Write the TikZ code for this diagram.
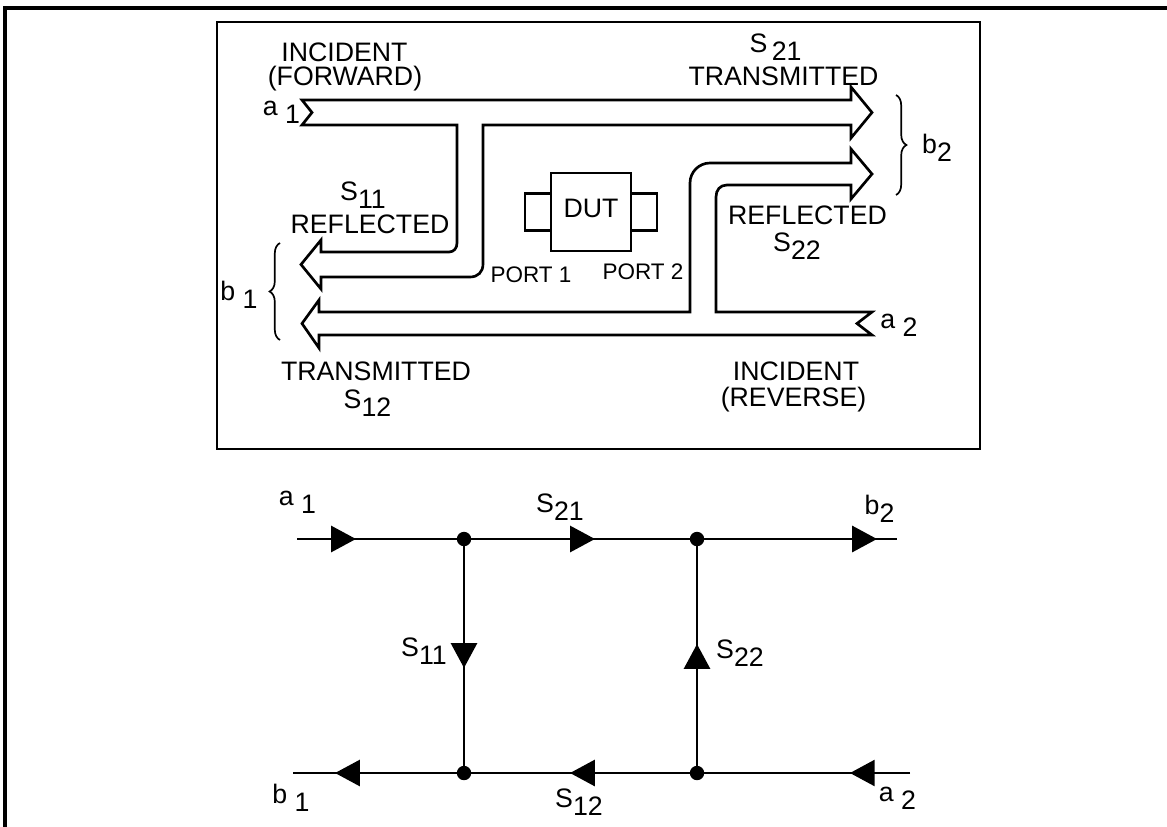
\documentclass[tikz,border=0pt]{standalone}
\usepackage{fontspec}
\setmainfont{Liberation Sans}
\usetikzlibrary{positioning,arrows.meta,decorations.markings,decorations.pathreplacing}

\newcommand{\sparam}[2]{#1\raisebox{-5.5pt}{#2}}

\tikzset{
    tag/.style={
        font=\fontsize{19}{22}\selectfont,
        inner sep=0pt
    },
    smalltag/.style={
        font=\fontsize{16}{19}\selectfont,
        inner sep=0pt
    },
    outerline/.style={line width=2.2pt},
    panel/.style={draw, line width=2.1pt},
    fatarrow/.style={draw, line width=1.9pt, line join=miter},
    dutbox/.style={
        draw,
        line width=2pt,
        minimum width=20mm,
        minimum height=19.5mm,
        inner sep=0pt,
        outer sep=0pt,
        font=\fontsize{19}{22}\selectfont
    },
    portbox/.style={
        draw,
        line width=2pt,
        minimum width=6.5mm,
        minimum height=9.25mm,
        inner sep=0pt,
        outer sep=0pt
    },
    curly/.style={
        decorate,
        decoration={brace, amplitude=2.6mm},
        line width=1.2pt
    },
    sigline/.style={line width=1.9pt},
    junction/.style={circle, fill, inner sep=0pt, minimum size=3.6mm},
    midarrow/.style={
        postaction={decorate},
        decoration={markings,
            mark=at position #1 with {\arrow{Triangle[length=6.2mm, width=6.5mm]}}}
    }
}

\begin{document}
\begin{tikzpicture}[x=0.25mm, y=-0.25mm]
\useasboundingbox (0,0) rectangle (1167,827);

% FRAME
\draw[outerline] (5,827) |- (1167,8);
\draw[panel] (217,22) rectangle (980,449);

% FORWARD WAVE (a1)
\draw[fatarrow] (302,100) -- (851,100) -- (851,87) -- (872,112.5) -- (851,138)
    -- (851,125) -- (483,125) -- (483,264) .. controls (483,272) and (478,277) .. (470,277)
    -- (321,277) -- (321,289) -- (301,264.5) -- (321,240) -- (321,252) -- (449,252)
    .. controls (454,252) and (457,248) .. (457,243) -- (457,125) -- (302,125)
    -- (312,112.5) -- cycle;

% REVERSE WAVE (a2)
\draw[fatarrow] (872,312) -- (716,312) -- (716,197) .. controls (716,190) and (720,185) .. (727,185)
    -- (851,185) -- (851,199) -- (872,174) -- (851,149) -- (851,163) -- (710,163)
    .. controls (699,163) and (690,172) .. (690,183) -- (690,312) -- (319,312)
    -- (319,300) -- (302,323.5) -- (319,348) -- (319,335) -- (872,335)
    -- (857,323.5) -- cycle;

% DUT
\node[dutbox] (dut) at (591,212) {\raisebox{1.8mm}{DUT}};
\node[portbox, left=0pt of dut] (portl) {};
\node[portbox, right=0pt of dut] (portr) {};

% BRACES
\draw[curly] (280,340) -- (280,243);
\draw[curly] (896,95) -- (896,195);

% TOP LABELS
\node[tag] (incfwd) at (344.5,52) {INCIDENT};
\node[tag] (fwd) at (345,79) {(FORWARD)};
\node[tag] (stop21) at (775.5,47.5) {\sparam{S\,}{21}};
\node[tag] (transfwd) at (783.5,76.5) {TRANSMITTED};
\node[tag] (atop1) at (281.5,112.5) {\sparam{a~}{1}};
\node[tag] (stop11) at (363,195) {\sparam{S}{11}};
\node[tag] (refl1) at (370,224) {REFLECTED};
\node[smalltag] (port1) at (531,275) {PORT 1};
\node[smalltag] (port2) at (643,272) {PORT 2};
\node[tag] (btop2) at (937,148) {\sparam{b}{2}};
\node[tag] (refl2) at (807.5,215) {REFLECTED};
\node[tag] (stop22) at (797,246.5) {\sparam{S}{22}};
\node[tag] (btop1) at (239,295) {\sparam{b~}{1}};
\node[tag] (transrev) at (376,371) {TRANSMITTED};
\node[tag] (stop12) at (367.5,403.5) {\sparam{S}{12}};
\node[tag] (increv) at (796,371) {INCIDENT};
\node[tag] (rev) at (793.5,399.5) {(REVERSE)};
\node[tag] (atop2) at (899,325) {\sparam{a~}{2}};

% FLOW GRAPH
\coordinate (a1in) at (297,539);
\coordinate (b2out) at (897,539);
\coordinate (b1out) at (293,773);
\coordinate (a2in) at (910,773);
\node[junction] (n1) at (464,539) {};
\node[junction] (n2) at (697,539) {};
\node[junction] (n3) at (464,773) {};
\node[junction] (n4) at (697,773) {};

\draw[sigline, midarrow=0.353] (a1in) -- (n1.center);
\draw[sigline, midarrow=0.562] (n1.center) -- (n2.center);
\draw[sigline, midarrow=0.9] (n2.center) -- (b2out);
\draw[sigline, midarrow=0.551] (n1.center) -- (n3.center);
\draw[sigline, midarrow=0.551] (n4.center) -- (n2.center);
\draw[sigline, midarrow=0.754] (n3.center) -- (b1out);
\draw[sigline, midarrow=0.545] (n4.center) -- (n3.center);
\draw[sigline, midarrow=0.282] (a2in) -- (n4.center);

% FLOW GRAPH LABELS
\node[tag] (ga1) at (297.5,502.5) {\sparam{a~}{1}};
\node[tag] (gs21) at (560,507.5) {\sparam{S}{21}};
\node[tag] (gb2) at (879.5,508.5) {\sparam{b}{2}};
\node[tag] (gs11) at (424,651.5) {\sparam{S}{11}};
\node[tag] (gs22) at (740,653) {\sparam{S}{22}};
\node[tag] (gb1) at (291,797.5) {\sparam{b~}{1}};
\node[tag] (gs12) at (579,802.5) {\sparam{S}{12}};
\node[tag] (ga2) at (897.5,798.5) {\sparam{a~}{2}};

\end{tikzpicture}
\end{document}
